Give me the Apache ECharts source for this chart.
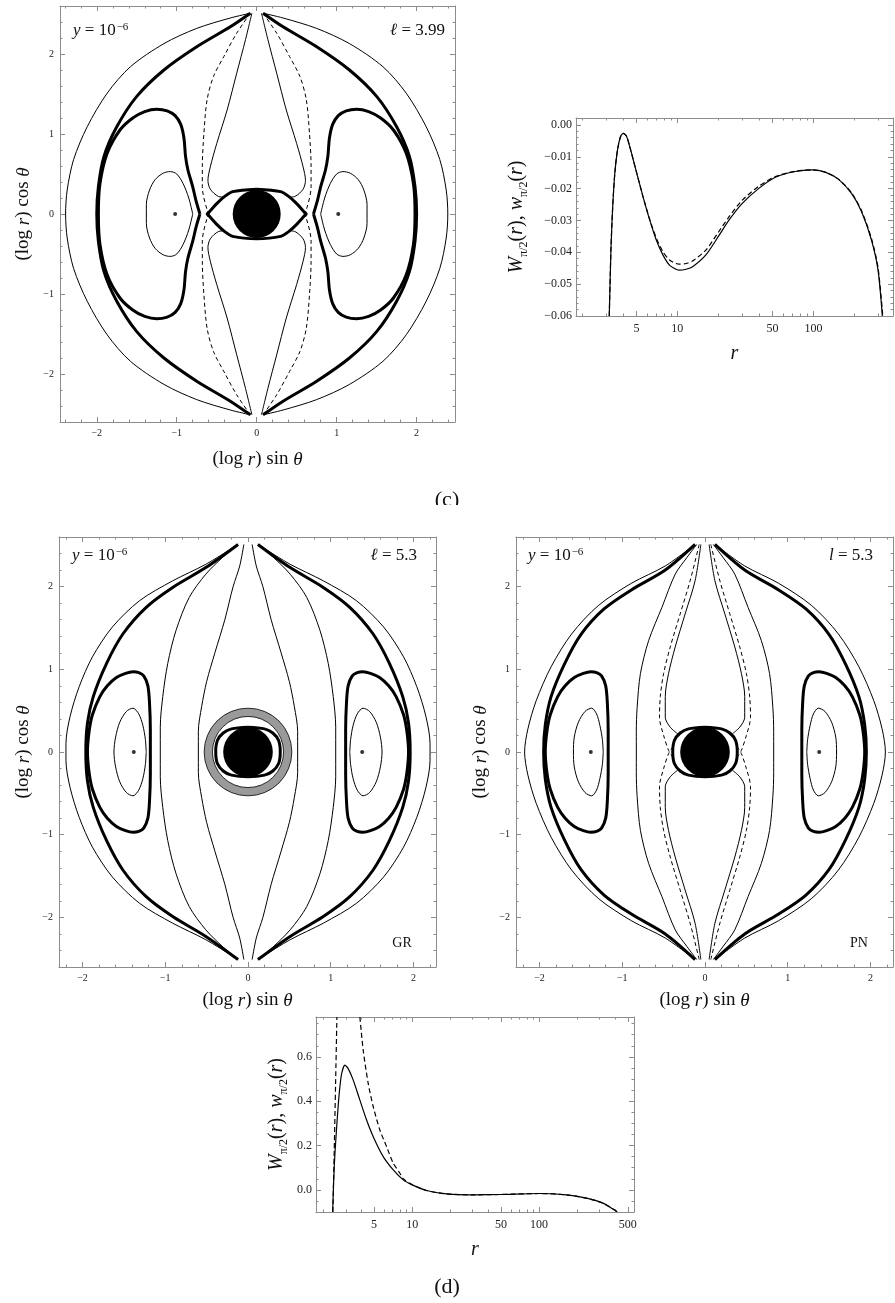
<!DOCTYPE html>
<html><head><meta charset="utf-8">
<script src="https://cdn.jsdelivr.net/npm/echarts@6/dist/echarts.min.js"></script>
<style>html,body{margin:0;padding:0;background:#fff}#c{width:895px;height:1303px}</style>
</head><body><div id="c"></div><script>
// ================= DATA =================
// Panel (c), l = 3.99 : quarter curves (x>=0,y>=0) from top cusp down to y=0
const cOuterThin  = [[0.08,2.51],[0.33,2.45],[0.75,2.32],[1.16,2.13],[1.58,1.84],[1.87,1.51],[2.12,1.09],[2.29,0.68],[2.37,0.30],[2.39,0]];
const cOuterThick = [[0.08,2.51],[0.33,2.34],[0.75,2.09],[1.16,1.80],[1.50,1.47],[1.75,1.09],[1.91,0.72],[1.98,0.34],[2.00,0]];
const cDashed     = [[0.08,2.51],[0.25,2.26],[0.41,1.97],[0.54,1.72],[0.62,1.43],[0.66,1.01],[0.68,0.59],[0.68,0.34],[0.62,0.05],[0.57,-0.05]];
const cBulb       = [[0.06,2.51],[0.14,2.18],[0.25,1.76],[0.37,1.30],[0.50,0.88],[0.58,0.59],[0.61,0.42],[0.58,0.31],[0.48,0.22],[0.40,0.21]];
// half closed curves (y>=0) from inner end (y=0) to outer end (y=0)
const cKidney     = [[0.71,0],[0.76,0.17],[0.80,0.34],[0.86,0.55],[0.89,0.72],[0.91,0.95],[0.95,1.12],[1.02,1.23],[1.12,1.29],[1.25,1.31],[1.40,1.28],[1.55,1.20],[1.71,1.05],[1.87,0.76],[1.96,0.38],[1.98,0]];
const cLoop       = [[0.80,0],[0.85,0.20],[0.92,0.38],[1.00,0.50],[1.08,0.53],[1.17,0.51],[1.27,0.43],[1.34,0.30],[1.38,0.12],[1.38,0]];
const cEye        = [[0,0.31],[0.30,0.28],[0.40,0.22],[0.50,0.13],[0.60,0.02],[0.62,0]];
const cDisk       = [[0,0,0.30]];
const cDots       = [[-1.02,0],[1.02,0]];

// Panel GR, l = 5.3
const gOuterThin  = [[0.12,2.51],[0.51,2.27],[0.91,2.07],[1.31,1.83],[1.64,1.51],[1.88,1.15],[2.04,0.79],[2.15,0.43],[2.20,0.10],[2.20,0]];
const gOuterThick = [[0.12,2.51],[0.51,2.23],[0.91,1.99],[1.23,1.75],[1.51,1.43],[1.71,1.07],[1.87,0.67],[1.94,0.35],[1.96,0]];
const gInnerA     = [[0.05,2.51],[0.10,2.25],[0.18,2.00],[0.28,1.60],[0.40,1.20],[0.50,0.85],[0.56,0.55],[0.60,0.25],[0.60,0]];
const gInnerB     = [[0.12,2.51],[0.30,2.36],[0.51,2.15],[0.71,1.87],[0.87,1.47],[0.97,1.07],[1.03,0.67],[1.06,0.30],[1.06,0]];
const gKidney     = [[1.18,0],[1.18,0.27],[1.19,0.59],[1.21,0.80],[1.26,0.92],[1.32,0.96],[1.39,0.97],[1.48,0.95],[1.59,0.90],[1.70,0.80],[1.79,0.67],[1.88,0.45],[1.92,0.25],[1.94,0]];
const gLoop       = [[1.23,0],[1.24,0.15],[1.27,0.32],[1.32,0.46],[1.39,0.53],[1.47,0.49],[1.55,0.36],[1.60,0.18],[1.62,0]];
const gEye        = [[0,0.30],[0.20,0.28],[0.30,0.23],[0.37,0.14],[0.39,0]];
const gDisk       = [[0,0,0.30]];
const gRing       = [[0,0,0.43,0.53]];
const gDots       = [[-1.38,0],[1.38,0]];

// Panel PN, l = 5.3
const pOuterThin  = [[0.12,2.51],[0.48,2.25],[0.89,2.04],[1.29,1.77],[1.61,1.43],[1.86,1.03],[2.04,0.62],[2.14,0.28],[2.18,0]];
const pOuterThick = [[0.12,2.51],[0.48,2.20],[0.89,1.96],[1.22,1.73],[1.50,1.42],[1.70,1.06],[1.86,0.67],[1.93,0.33],[1.95,0]];
const pInnerB     = [[0.10,2.51],[0.22,2.35],[0.36,2.15],[0.52,1.75],[0.68,1.35],[0.78,0.95],[0.82,0.54],[0.83,0.25],[0.83,0]];
const pInnerA     = [[0.05,2.51],[0.12,2.07],[0.24,1.67],[0.36,1.27],[0.44,0.95],[0.48,0.67],[0.48,0.42],[0.42,0.30],[0.33,0.22]];
const pDashed     = [[0.07,2.51],[0.18,2.07],[0.30,1.67],[0.42,1.27],[0.50,0.95],[0.54,0.67],[0.55,0.42],[0.50,0.20],[0.44,0.02],[0.40,-0.05]];
const pKidney     = [[1.17,0],[1.17,0.27],[1.18,0.59],[1.20,0.80],[1.25,0.92],[1.31,0.96],[1.38,0.97],[1.47,0.95],[1.58,0.90],[1.69,0.80],[1.78,0.67],[1.87,0.45],[1.91,0.25],[1.93,0]];
const pLoop       = [[1.23,0],[1.24,0.15],[1.27,0.32],[1.31,0.46],[1.37,0.53],[1.45,0.49],[1.53,0.36],[1.58,0.18],[1.59,0]];
const pEye        = [[0,0.30],[0.20,0.28],[0.30,0.23],[0.37,0.14],[0.39,0]];
const pDisk       = [[0,0,0.30]];
const pDots       = [[-1.38,0],[1.38,0]];

// W(r) plot, l = 3.99  [r, value]
const wTopSolid  = [[3.16,-0.06],[3.25,-0.0393],[3.34,-0.0267],[3.47,-0.0152],[3.63,-0.0079],[3.82,-0.0037],[4.0,-0.0026],[4.23,-0.0035],[4.47,-0.0068],[5.0,-0.0147],[5.59,-0.0225],[6.26,-0.0298],[7.0,-0.0361],[7.83,-0.0408],[8.75,-0.044],[9.79,-0.0453],[10.35,-0.0456],[11.58,-0.0453],[12.95,-0.0445],[16.2,-0.0408],[20.3,-0.0346],[24.0,-0.0298],[30.0,-0.0246],[39.7,-0.0199],[52.5,-0.0164],[73.5,-0.0146],[97.3,-0.0141],[121.7,-0.0148],[152.2,-0.017],[190.4,-0.0215],[225.3,-0.0272],[266.5,-0.0361],[298.1,-0.0456],[320.6,-0.06]];
const wTopDashed = [[3.16,-0.06],[3.25,-0.0393],[3.34,-0.0267],[3.47,-0.0152],[3.63,-0.0079],[3.82,-0.0037],[4.0,-0.0026],[4.23,-0.0035],[4.47,-0.0068],[5.0,-0.0147],[5.59,-0.0225],[6.26,-0.0296],[7.0,-0.0355],[7.83,-0.0398],[8.75,-0.0424],[9.79,-0.0435],[10.35,-0.0437],[11.58,-0.0435],[12.95,-0.0427],[16.2,-0.0393],[20.3,-0.0333],[24.0,-0.0288],[30.0,-0.0236],[39.7,-0.0192],[52.5,-0.0162],[73.5,-0.0145],[97.3,-0.0141],[121.7,-0.0148],[152.2,-0.017],[190.4,-0.0213],[225.3,-0.0269],[266.5,-0.0356],[298.1,-0.0448],[323.0,-0.06]];
const wTopXLabels = [5,10,50,100];
const wTopXMinor  = [2,3,4,6,7,8,9,20,30,40,60,70,80,90,200,300];
const wTopYLabels = [0,-0.01,-0.02,-0.03,-0.04,-0.05,-0.06];

// W(r) plot, l = 5.3  [r, value]
const wBotSolid  = [[2.36,-0.1],[2.43,0.105],[2.54,0.285],[2.66,0.435],[2.78,0.525],[2.95,0.5625],[3.13,0.547],[3.43,0.495],[3.87,0.405],[4.37,0.315],[4.93,0.24],[5.91,0.15],[7.09,0.09],[8.5,0.045],[10,0.0225],[12.97,-0.003],[18.6,-0.018],[30.2,-0.0225],[50,-0.021],[100,-0.0165],[164,-0.0225],[236,-0.0375],[319,-0.06],[414,-0.1]];
const wBotDashLeft  = [[2.37,-0.1],[2.43,0.18],[2.49,0.48],[2.55,0.78]];
const wBotDashRight = [[3.87,0.78],[4.11,0.63],[4.50,0.48],[4.93,0.375],[5.56,0.27],[6.28,0.195],[7.09,0.12],[8.0,0.075],[8.5,0.05],[10,0.0235],[12.97,-0.003],[18.6,-0.018],[30.2,-0.0225],[50,-0.021],[100,-0.0165],[164,-0.0225],[236,-0.0375],[319,-0.06],[418,-0.1]];
const wBotXLabels = [5,10,50,100,500];
const wBotXMinor  = [2,3,4,6,7,8,9,20,30,40,60,70,80,90,200,300,400];
const wBotYLabels = [0,0.2,0.4,0.6];

const contourLabels = [-2,-1,0,1,2];

// ================= BUILD =================
const F = '"Liberation Serif","DejaVu Serif",serif';
const FRAME = '#8c8c8c';
const xAxis = [], yAxis = [], grid = [], series = [];
const minus = s => String(s).replace('-', '\u2212');

function range(a, b, step, skip) {
  const out = [];
  for (let v = a; v <= b + 1e-9; v += step) {
    const r = Math.round(v * 1000) / 1000;
    if (!skip || !skip(r)) out.push(r);
  }
  return out;
}

function addGrid(box, xs, ys) {
  const gi = grid.length;
  grid.push(Object.assign({outerBoundsMode: 'none', containLabel: false}, box));
  const xi = xAxis.length, yi = yAxis.length;
  const sides = [['bottom', true], ['bottom', false], ['top', true], ['top', false]];
  sides.forEach(([pos, major], k) => {
    xAxis.push({
      gridIndex: gi, type: xs.type, min: xs.min, max: xs.max, position: pos,
      name: (k === 0 ? xs.name : ''), nameLocation: 'middle', nameGap: xs.nameGap,
      nameTextStyle: xs.nameStyle,
      axisLine: {show: major, onZero: false, lineStyle: {color: FRAME, width: 1}},
      axisTick: {show: true, inside: true, length: major ? 5 : 2.5, customValues: major ? xs.major : xs.minor, lineStyle: {color: FRAME}},
      axisLabel: {show: k === 0, customValues: xs.major, formatter: xs.fmt, margin: xs.margin || 6,
        fontFamily: F, fontSize: xs.fs || 10, color: '#222'},
      splitLine: {show: false}, minorTick: {show: false}
    });
  });
  const ysides = [['left', true], ['left', false], ['right', true], ['right', false]];
  ysides.forEach(([pos, major], k) => {
    yAxis.push({
      gridIndex: gi, type: 'value', min: ys.min, max: ys.max, position: pos,
      name: (k === 0 ? ys.name : ''), nameLocation: 'middle', nameGap: ys.nameGap, nameRotate: 90,
      nameTextStyle: ys.nameStyle,
      axisLine: {show: major, onZero: false, lineStyle: {color: FRAME, width: 1}},
      axisTick: {show: true, inside: true, length: major ? 5 : 2.5, customValues: major ? ys.major : ys.minor, lineStyle: {color: FRAME}},
      axisLabel: {show: k === 0, customValues: ys.major, formatter: ys.fmt, margin: ys.margin || 6,
        fontFamily: F, fontSize: ys.fs || 10, color: '#222'},
      splitLine: {show: false}, minorTick: {show: false}
    });
  });
  return {x: xi, y: yi};
}

const titleStyle = (fs) => ({fontFamily: F, fontSize: fs, color: '#111',
  rich: {i: {fontStyle: 'italic', fontFamily: F, fontSize: fs, color: '#111'},
         n: {fontFamily: F, fontSize: fs, color: '#111'},
         s: {fontFamily: F, fontSize: Math.round(fs * 0.62), color: '#111', verticalAlign: 'bottom', lineHeight: fs + 6}}});
const posName = '{n|(log }{i|r}{n|) sin }{i|θ}';
const cosName = '{n|(log }{i|r}{n|) cos }{i|θ}';
const wName = '{i|W}{s|π/2}{n|(}{i|r}{n|), }{i|w}{s|π/2}{n|(}{i|r}{n|)}';

const cMinor = range(-2.4, 2.4, 0.2, v => Math.abs(v - Math.round(v)) < 1e-6);
const cFmt = v => minus(Math.round(v));

function contourAxes(box, xmin, xmax, xGap, yGap) {
  return addGrid(box,
    {type: 'value', min: xmin, max: xmax, major: contourLabels, minor: cMinor, fmt: cFmt,
     name: posName, nameGap: xGap, nameStyle: titleStyle(19), margin: 6},
    {min: -2.6, max: 2.6, major: contourLabels, minor: cMinor, fmt: cFmt,
     name: cosName, nameGap: yGap, nameStyle: titleStyle(19), margin: 6});
}

const axC  = contourAxes({left: 60, top: 6, width: 395, height: 416}, -2.46, 2.48, 28, 27);
const axWT = addGrid({left: 576, top: 118, width: 317, height: 198},
  {type: 'log', min: 1.8, max: 384, major: wTopXLabels, minor: wTopXMinor, fmt: v => String(Math.round(v)),
   name: '{i|r}', nameGap: 28, nameStyle: titleStyle(20), margin: 7, fs: 12},
  {min: -0.06, max: 0.0022, major: wTopYLabels, minor: range(-0.06, 0, 0.002, v => Math.abs(v * 100 - Math.round(v * 100)) < 1e-6),
   fmt: v => minus(v.toFixed(2)), name: wName, nameGap: 46, nameStyle: titleStyle(20), margin: 4, fs: 12});
const axG  = contourAxes({left: 59, top: 537, width: 377, height: 430}, -2.284, 2.272, 24, 26);
const axP  = contourAxes({left: 516, top: 537, width: 377, height: 430}, -2.284, 2.272, 24, 26);
const axWB = addGrid({left: 316, top: 1017, width: 318, height: 195},
  {type: 'log', min: 1.745, max: 560, major: wBotXLabels, minor: wBotXMinor, fmt: v => String(Math.round(v)),
   name: '{i|r}', nameGap: 28, nameStyle: titleStyle(20), margin: 7, fs: 12},
  {min: -0.1, max: 0.78, major: wBotYLabels, minor: range(-0.1, 0.75, 0.05, v => Math.abs(v * 5 - Math.round(v * 5)) < 1e-6),
   fmt: v => v.toFixed(1), name: wName, nameGap: 26, nameStyle: titleStyle(20), margin: 4, fs: 12});

const THIN = {color: '#000', width: 1};
const THICK = {color: '#000', width: 3};
const DASH = {color: '#000', width: 1, type: [4, 3]};

function line(ax, data, style, smooth) {
  series.push({type: 'line', xAxisIndex: ax.x, yAxisIndex: ax.y, data: data, symbol: 'none',
    smooth: smooth === undefined ? 0.3 : smooth, lineStyle: style, silent: true, animation: false, z: 3, clip: true});
}
const mx = d => d.map(p => [-p[0], p[1]]);
const my = d => d.map(p => [p[0], -p[1]]);
const half = q => q.concat(my(q.slice(0, -1)).reverse());        // quarter -> right half (top to bottom)
const closed = h => h.concat(my(h.slice(0, -1)).reverse());     // upper half loop -> closed loop
const eyeLoop = q => q.concat(my(q.slice(0, -1)).reverse(), mx(my(q)).slice(1), mx(q).reverse().slice(1));

function both(ax, d, style) { line(ax, d, style); line(ax, mx(d), style); }
function quads(ax, q, style) { both(ax, q, style); both(ax, my(q), style); }

function disk(ax, data) {
  series.push({type: 'custom', xAxisIndex: ax.x, yAxisIndex: ax.y, data: data, silent: true, animation: false, z: 4,
    renderItem: (p, api) => {
      const c = api.coord([api.value(0), api.value(1)]);
      const s = api.size([api.value(2), api.value(2)]);
      return {type: 'circle', shape: {cx: c[0], cy: c[1], r: (s[0] + s[1]) / 2}, style: {fill: '#000'}};
    }});
}
function ring(ax, data) {
  series.push({type: 'custom', xAxisIndex: ax.x, yAxisIndex: ax.y, data: data, silent: true, animation: false, z: 2,
    renderItem: (p, api) => {
      const c = api.coord([api.value(0), api.value(1)]);
      const s0 = api.size([api.value(2), api.value(2)]);
      const s1 = api.size([api.value(3), api.value(3)]);
      return {type: 'ring', shape: {cx: c[0], cy: c[1], r0: (s0[0] + s0[1]) / 2, r: (s1[0] + s1[1]) / 2},
        style: {fill: '#9a9a9a', stroke: '#000', lineWidth: 0.8}};
    }});
}
function dots(ax, data) {
  series.push({type: 'scatter', xAxisIndex: ax.x, yAxisIndex: ax.y, data: data, symbolSize: 4,
    itemStyle: {color: '#000'}, silent: true, animation: false, z: 5});
}

// panel (c)
both(axC, half(cOuterThin), THIN);
both(axC, half(cOuterThick), THICK);
both(axC, closed(cKidney), THICK);
both(axC, closed(cLoop), THIN);
quads(axC, cDashed, DASH);
quads(axC, cBulb, THIN);
line(axC, eyeLoop(cEye), THICK);
disk(axC, cDisk);
dots(axC, cDots);

// GR
both(axG, half(gOuterThin), THIN);
both(axG, half(gOuterThick), THICK);
both(axG, half(gInnerA), THIN);
both(axG, half(gInnerB), THIN);
both(axG, closed(gKidney), THICK);
both(axG, closed(gLoop), THIN);
ring(axG, gRing);
line(axG, eyeLoop(gEye), THICK);
disk(axG, gDisk);
dots(axG, gDots);

// PN
both(axP, half(pOuterThin), THIN);
both(axP, half(pOuterThick), THICK);
both(axP, half(pInnerB), THIN);
quads(axP, pInnerA, THIN);
quads(axP, pDashed, DASH);
both(axP, closed(pKidney), THICK);
both(axP, closed(pLoop), THIN);
line(axP, eyeLoop(pEye), THICK);
disk(axP, pDisk);
dots(axP, pDots);

// W plots
line(axWT, wTopDashed, {color: '#000', width: 1.2, type: [5, 3]}, 0.25);
line(axWT, wTopSolid, {color: '#000', width: 1.2}, 0.25);
line(axWB, wBotDashLeft, {color: '#000', width: 1.2, type: [5, 3]}, 0.2);
line(axWB, wBotDashRight, {color: '#000', width: 1.2, type: [5, 3]}, 0.25);
line(axWB, wBotSolid, {color: '#000', width: 1.2}, 0.25);

// annotations
function label(x, y, text, align, fs) {
  const f = fs || 17;
  return {type: 'text', x: x, y: y, z: 10, silent: true,
    style: {text: text, fontFamily: F, fontSize: f, fill: '#111', align: align || 'left', verticalAlign: 'middle',
      rich: {i: {fontStyle: 'italic', fontFamily: F, fontSize: f, fill: '#111', lineHeight: 19, verticalAlign: 'bottom'},
             n: {fontFamily: F, fontSize: f, fill: '#111', lineHeight: 19, verticalAlign: 'bottom'},
             s: {fontFamily: F, fontSize: 11, fill: '#111', lineHeight: 19, verticalAlign: 'top', padding: [1, 0, 0, 1]}}}};
}
const yLab = '{i|y}{n| = 10}{s|\u22126}';
const graphic = [
  label(73, 30, yLab), label(445, 30, '{i|ℓ}{n| = 3.99}', 'right'),
  label(72, 555, yLab), label(417, 555, '{i|ℓ}{n| = 5.3}', 'right'),
  label(528, 555, yLab), label(873, 555, '{i|l}{n| = 5.3}', 'right'),
  {type: 'text', x: 402, y: 943, z: 10, style: {text: 'GR', fontFamily: F, fontSize: 14, fill: '#111', align: 'center', verticalAlign: 'middle'}},
  {type: 'text', x: 859, y: 943, z: 10, style: {text: 'PN', fontFamily: F, fontSize: 14, fill: '#111', align: 'center', verticalAlign: 'middle'}},
  {type: 'text', x: 447, y: 500, z: 10, style: {text: '(c)', fontFamily: F, fontSize: 22, fill: '#111', align: 'center', verticalAlign: 'middle'}},
  {type: 'rect', x: 380, y: 505, z: 11, shape: {width: 130, height: 30}, style: {fill: '#fff'}},
  {type: 'text', x: 447, y: 1287, z: 10, style: {text: '(d)', fontFamily: F, fontSize: 22, fill: '#111', align: 'center', verticalAlign: 'middle'}}
];

const chart = echarts.init(document.getElementById('c'), null, {renderer: 'canvas', width: 895, height: 1303});
chart.setOption({backgroundColor: '#fff', animation: false, grid, xAxis, yAxis, series, graphic});
</script></body></html>
